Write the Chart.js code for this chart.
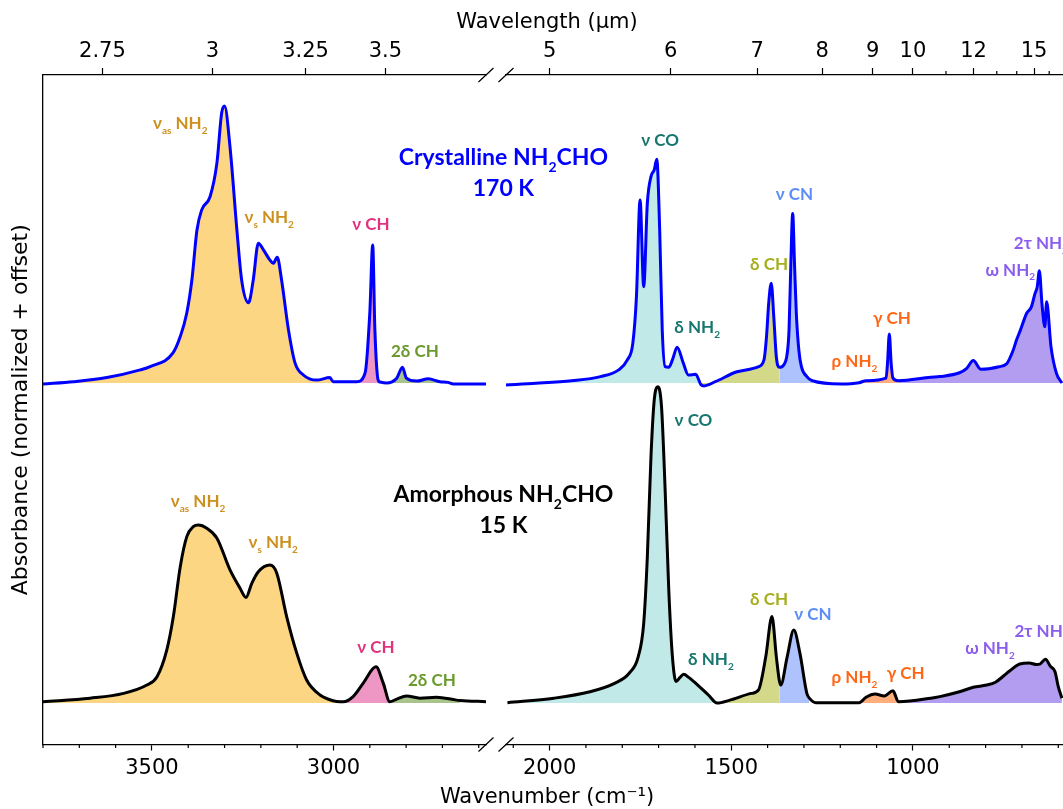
<!DOCTYPE html>
<html>
<head>
<meta charset="utf-8">
<script src="https://cdn.jsdelivr.net/npm/chart.js@4.4.0/dist/chart.umd.min.js"></script>
<style>
  html, body { margin: 0; padding: 0; background: #fff; overflow: hidden; }
  #wrap { position: relative; width: 1063px; height: 809px; }
  #wrap canvas { position: absolute; left: 0; top: 0; }
</style>
</head>
<body>
<div id="wrap">
  <canvas id="leftChart" width="1063" height="809"></canvas>
  <canvas id="rightChart" width="1063" height="809"></canvas>
</div>
<script>
// panel ranges (cm-1) and axis ticks
const leftRange = [3800, 2580];
const rightRange = [2120, 587];
const leftWnTicks = [3500, 3000];
const rightWnTicks = [2000, 1500, 1000];
const leftLambdaTicks = [2.75, 3, 3.25, 3.5];
const rightLambdaTicks = [5, 6, 7, 8, 9, 10, 12, 15];
const rightLambdaMinor = [11, 13, 14, 16];

const crystOffset = 1.0;
const amorphOffset = 0.0;

// crystalline NH2CHO, 170 K
const crystLeftWn = [3800, 3716, 3624, 3532, 3505, 3442, 3422, 3404, 3390, 3376, 3363, 3340, 3321, 3308, 3300, 3285, 3266, 3253, 3234, 3221, 3207, 3193, 3175, 3166, 3155, 3143, 3124, 3106, 3083, 3046, 3010, 3001, 2995, 2936, 2913, 2900, 2892, 2886, 2877, 2872, 2854, 2826, 2810, 2799, 2771, 2739, 2707, 2685, 2670, 2580];
const crystLeftAbs = [-0.003, 0.004, 0.017, 0.041, 0.051, 0.094, 0.145, 0.219, 0.322, 0.478, 0.541, 0.582, 0.688, 0.844, 0.866, 0.738, 0.478, 0.322, 0.251, 0.322, 0.437, 0.416, 0.384, 0.374, 0.393, 0.322, 0.166, 0.063, 0.025, 0.009, 0.017, 0.004, 0.004, 0.004, 0.031, 0.219, 0.431, 0.166, 0.009, 0.003, 0.000, 0.015, 0.049, 0.015, 0.006, 0.013, 0.004, 0.002, -0.003, -0.003];
const crystRightWn = [2121, 2037, 1939, 1860, 1810, 1786, 1771, 1761, 1751, 1741, 1731, 1721, 1712, 1705, 1697, 1690, 1682, 1672, 1662, 1649, 1632, 1618, 1598, 1583, 1575, 1544, 1484, 1425, 1410, 1403, 1397, 1390, 1383, 1376, 1368, 1356, 1346, 1341, 1336, 1331, 1326, 1321, 1314, 1307, 1292, 1277, 1198, 1148, 1129, 1074, 1070, 1065, 1060, 1055, 1040, 951, 926, 872, 852, 834, 813, 763, 742, 724, 715, 704, 687, 674, 664, 658, 652, 645, 637, 632, 620, 605, 590];
const crystRightAbs = [-0.006, -0.001, 0.007, 0.020, 0.041, 0.072, 0.124, 0.270, 0.572, 0.301, 0.562, 0.645, 0.666, 0.699, 0.478, 0.166, 0.051, 0.049, 0.072, 0.112, 0.062, 0.025, 0.027, -0.006, -0.009, 0.004, 0.035, 0.051, 0.072, 0.145, 0.249, 0.312, 0.207, 0.082, 0.049, 0.056, 0.093, 0.166, 0.374, 0.530, 0.374, 0.218, 0.103, 0.051, 0.020, 0.007, -0.003, 0.001, 0.007, 0.015, 0.062, 0.153, 0.062, 0.015, 0.007, 0.018, 0.020, 0.032, 0.046, 0.070, 0.043, 0.051, 0.060, 0.103, 0.134, 0.166, 0.218, 0.238, 0.280, 0.300, 0.351, 0.249, 0.176, 0.254, 0.113, 0.030, 0.000];

// amorphous NH2CHO, 15 K
const amorphLeftWn = [3800, 3670, 3578, 3514, 3486, 3459, 3441, 3422, 3404, 3386, 3372, 3349, 3321, 3285, 3257, 3241, 3225, 3207, 3175, 3156, 3129, 3101, 3074, 3037, 3001, 2982, 2973, 2946, 2918, 2883, 2863, 2845, 2826, 2799, 2762, 2716, 2661, 2652, 2580];
const amorphLeftAbs = [0.004, 0.015, 0.030, 0.056, 0.082, 0.166, 0.270, 0.426, 0.520, 0.551, 0.556, 0.546, 0.515, 0.416, 0.358, 0.330, 0.374, 0.410, 0.431, 0.405, 0.270, 0.155, 0.072, 0.025, 0.007, 0.004, 0.004, 0.020, 0.062, 0.113, 0.062, 0.004, 0.012, 0.022, 0.015, 0.018, 0.009, 0.008, 0.004];
const amorphRightWn = [2116, 1988, 1889, 1820, 1781, 1756, 1741, 1731, 1721, 1712, 1702, 1692, 1682, 1672, 1662, 1652, 1641, 1631, 1617, 1603, 1563, 1539, 1504, 1445, 1425, 1405, 1388, 1376, 1368, 1364, 1346, 1328, 1311, 1292, 1285, 1267, 1148, 1129, 1104, 1079, 1055, 1040, 951, 926, 872, 834, 797, 773, 750, 734, 706, 680, 660, 650, 635, 622, 609, 600, 590];
const amorphRightAbs = [0.001, 0.015, 0.035, 0.062, 0.093, 0.145, 0.249, 0.457, 0.770, 0.947, 0.988, 0.926, 0.666, 0.353, 0.145, 0.067, 0.080, 0.090, 0.080, 0.067, 0.025, 0.000, 0.009, 0.030, 0.041, 0.145, 0.270, 0.145, 0.072, 0.056, 0.145, 0.228, 0.155, 0.030, 0.015, 0.001, 0.001, 0.018, 0.028, 0.022, 0.038, 0.004, 0.015, 0.020, 0.035, 0.049, 0.056, 0.065, 0.085, 0.100, 0.122, 0.125, 0.120, 0.122, 0.137, 0.115, 0.098, 0.051, 0.015];

// band assignments: [key, from cm-1, to cm-1]
const crystBands = [['nh2', 3800, 2995], ['ch', 2995, 2872], ['ch2', 2872, 2685],
  ['co', 2125, 1583], ['dch', 1583, 1368], ['cn', 1368, 1277], ['rho', 1148, 1040], ['omega', 1040, 587]];
const amorphBands = [['nh2', 3800, 2982], ['ch', 2982, 2845], ['ch2', 2845, 2652],
  ['co', 2125, 1539], ['dch', 1539, 1368], ['cn', 1368, 1285], ['rho', 1148, 1040], ['omega', 1040, 587]];

// band labels: [text, cm-1, y]
const crystLabels = [['ν_{as} NH_{2}', 3422, 1.812, 'nh2'], ['ν_{s} NH_{2}', 3177, 1.516, 'nh2'],
  ['ν CH', 2897, 1.494, 'ch'], ['2δ CH', 2776, 1.098, 'ch2'], ['ν CO', 1696, 1.759, 'co'],
  ['δ NH_{2}', 1594, 1.172, 'co'], ['δ CH', 1396, 1.369, 'dch'], ['ν CN', 1326, 1.588, 'cn'],
  ['ρ NH_{2}', 1161, 1.067, 'rho'], ['γ CH', 1058, 1.202, 'rho'], ['ω NH_{2}', 732, 1.353, 'omega'],
  ['2τ NH_{2}', 648, 1.437, 'omega']];
const amorphLabels = [['ν_{as} NH_{2}', 3373, 0.629, 'nh2'], ['ν_{s} NH_{2}', 3166, 0.501, 'nh2'],
  ['ν CH', 2883, 0.173, 'ch'], ['2δ CH', 2729, 0.069, 'ch2'], ['ν CO', 1604, 0.884, 'co'],
  ['δ NH_{2}', 1556, 0.137, 'co'], ['δ CH', 1396, 0.322, 'dch'], ['ν CN', 1275, 0.277, 'cn'],
  ['ρ NH_{2}', 1161, 0.080, 'rho'], ['γ CH', 1020, 0.093, 'rho'], ['ω NH_{2}', 788, 0.171, 'omega'],
  ['2τ NH_{2}', 646, 0.223, 'omega']];
const sampleTitles = [['Crystalline NH_{2}CHO', 2532, 1.703, 'cryst'], ['170 K', 2532, 1.609, 'cryst'],
  ['Amorphous NH_{2}CHO', 2532, 0.650, 'amorph'], ['15 K', 2532, 0.553, 'amorph']];

const fillColors = { nh2: '#fdd683', ch: '#ee97c4', ch2: '#a9c48a', co: '#c0e9e7', dch: '#d4d98a',
  cn: '#aec3fe', rho: '#ffae7b', omega: '#b29df0' };
const textColors = { nh2: '#cc901e', ch: '#e2327d', ch2: '#6a9a2c', co: '#17766f', dch: '#a5ae1d',
  cn: '#5b8df8', rho: '#ff6616', omega: '#8b5cf0', cryst: '#0000ff', amorph: '#000000' };

const AXIS_FONT = "'DejaVu Sans', sans-serif";
const LABEL_FONT = "Lato, 'Open Sans', sans-serif";
const yMin = -0.1297, yMax = 1.9625;

function toPoints(wn, ab, offset) {
  return wn.map((w, i) => ({ x: w, y: ab[i] + offset }));
}

function bandDatasets(wn, ab, offset, bands, range) {
  return bands.filter(b => b[2] < range[0] && b[1] > range[1]).map(b => {
    const pts = [];
    wn.forEach((w, i) => { if (w <= b[1] && w >= b[2]) pts.push({ x: w, y: ab[i] + offset }); });
    return { data: pts, borderWidth: 0, backgroundColor: fillColors[b[0]], fill: { value: offset }, order: 5 };
  });
}

function drawRich(ctx, text, x, y, size, color) {
  const parts = [];
  const re = /_\{([^}]*)\}/g;
  let last = 0, m;
  while ((m = re.exec(text))) {
    if (m.index > last) parts.push({ t: text.slice(last, m.index), sub: false });
    parts.push({ t: m[1], sub: true });
    last = re.lastIndex;
  }
  if (last < text.length) parts.push({ t: text.slice(last), sub: false });
  const mainFont = `bold ${size}px ${LABEL_FONT}`;
  const subFont = `bold ${Math.round(size * 0.6)}px ${LABEL_FONT}`;
  let w = 0;
  parts.forEach(p => { ctx.font = p.sub ? subFont : mainFont; p.w = ctx.measureText(p.t).width; w += p.w; });
  let cx = x - w / 2;
  ctx.fillStyle = color;
  ctx.textAlign = 'left';
  ctx.textBaseline = 'middle';
  parts.forEach(p => {
    ctx.font = p.sub ? subFont : mainFont;
    ctx.fillText(p.t, cx, p.sub ? y + size * 0.42 : y);
    cx += p.w;
  });
}

const panelDecor = {
  id: 'panelDecor',
  afterDraw(chart, args, opts) {
    const { ctx, chartArea: a, scales } = chart;
    const xs = scales.x, ys = scales.y;
    ctx.save();
    ctx.strokeStyle = '#000';
    ctx.lineWidth = 1.2;
    ctx.beginPath();
    // minor ticks every 100 cm-1
    for (let v = Math.ceil(xs.min / 100) * 100; v <= xs.max; v += 100) {
      if (v % 500 === 0) continue;
      const px = xs.getPixelForValue(v);
      ctx.moveTo(px, a.bottom); ctx.lineTo(px, a.bottom + 3.5);
    }
    (opts.lambdaMinor || []).forEach(l => {
      const px = xs.getPixelForValue(1e4 / l);
      ctx.moveTo(px, a.top); ctx.lineTo(px, a.top - 4);
    });
    // broken-axis marks
    const bx = opts.breakSide === 'right' ? a.right : a.left;
    [a.top, a.bottom].forEach(by => { ctx.moveTo(bx - 7.5, by + 7); ctx.lineTo(bx + 7.5, by - 7); });
    ctx.stroke();

    opts.labels.forEach(l => drawRich(ctx, l[0], xs.getPixelForValue(l[1]), ys.getPixelForValue(l[2]), 17, textColors[l[3]]));
    (opts.titles || []).forEach(l => drawRich(ctx, l[0], xs.getPixelForValue(l[1]), ys.getPixelForValue(l[2]), 23, textColors[l[3]]));

    if (opts.axisTitles) {
      ctx.fillStyle = '#000';
      ctx.font = `21px ${AXIS_FONT}`;
      ctx.textAlign = 'center';
      ctx.textBaseline = 'middle';
      ctx.fillText('Wavelength (μm)', 547, 23);
      ctx.fillText('Wavenumber (cm⁻¹)', 547, 798);
    }
    ctx.restore();
  }
};

function panelConfig(p) {
  const datasets = [
    { data: toPoints(p.crystWn, p.crystAbs, crystOffset), borderColor: '#0000ff', borderWidth: 3, fill: false, order: 0 },
    { data: toPoints(p.amorphWn, p.amorphAbs, amorphOffset), borderColor: '#000000', borderWidth: 3, fill: false, order: 0 },
    ...bandDatasets(p.crystWn, p.crystAbs, crystOffset, crystBands, p.range),
    ...bandDatasets(p.amorphWn, p.amorphAbs, amorphOffset, amorphBands, p.range)
  ];
  const tickFont = { family: AXIS_FONT, size: 21 };
  return {
    type: 'line',
    data: { datasets },
    options: {
      responsive: false,
      animation: false,
      events: [],
      layout: { padding: { left: p.padLeft, right: p.padRight, top: 0, bottom: 0 } },
      elements: { point: { radius: 0 }, line: { cubicInterpolationMode: 'monotone' } },
      plugins: { legend: { display: false }, tooltip: { enabled: false }, panelDecor: p.decor },
      scales: {
        x: {
          type: 'linear', position: 'bottom', reverse: true, bounds: 'data',
          min: p.range[1], max: p.range[0],
          afterBuildTicks: s => { s.ticks = p.wnTicks.map(v => ({ value: v })); },
          afterFit: s => { s.height = 64.5; },
          grid: { drawOnChartArea: false, drawTicks: true, tickLength: 6, tickColor: '#000', tickWidth: 1.2 },
          border: { display: true, color: '#000', width: 1.3 },
          ticks: { autoSkip: false, maxRotation: 0, padding: 5, color: '#000', font: tickFont, callback: v => String(v) }
        },
        x2: {
          type: 'linear', position: 'top', reverse: true, bounds: 'data',
          min: p.range[1], max: p.range[0],
          afterBuildTicks: s => { s.ticks = p.lambdaTicks.map(l => ({ value: 1e4 / l })); },
          afterFit: s => { s.height = 75; },
          grid: { drawOnChartArea: false, drawTicks: true, tickLength: 7, tickColor: '#000', tickWidth: 1.2 },
          border: { display: true, color: '#000', width: 1.3 },
          ticks: { autoSkip: false, maxRotation: 0, padding: 4, color: '#000', font: tickFont, callback: (v, i) => String(p.lambdaTicks[i]) }
        },
        y: {
          display: p.showY, min: yMin, max: yMax,
          afterFit: s => { s.width = p.showY ? 43 : 0; },
          grid: { display: false },
          ticks: { display: false },
          border: { display: true, color: '#000', width: 1.3 },
          title: { display: true, text: 'Absorbance (normalized + offset)', color: '#000', font: { family: AXIS_FONT, size: 22 }, padding: { top: 8, bottom: 0 } }
        }
      }
    },
    plugins: [panelDecor]
  };
}

new Chart(document.getElementById('leftChart'), panelConfig({
  range: leftRange, wnTicks: leftWnTicks, lambdaTicks: leftLambdaTicks,
  crystWn: crystLeftWn, crystAbs: crystLeftAbs, amorphWn: amorphLeftWn, amorphAbs: amorphLeftAbs,
  padLeft: 0, padRight: 577, showY: true,
  decor: { breakSide: 'right', labels: crystLabels.concat(amorphLabels).filter(l => l[1] > 2300), titles: sampleTitles, axisTitles: true }
}));

new Chart(document.getElementById('rightChart'), panelConfig({
  range: rightRange, wnTicks: rightWnTicks, lambdaTicks: rightLambdaTicks,
  crystWn: crystRightWn, crystAbs: crystRightAbs, amorphWn: amorphRightWn, amorphAbs: amorphRightAbs,
  padLeft: 506, padRight: 0, showY: false,
  decor: { breakSide: 'left', lambdaMinor: rightLambdaMinor, labels: crystLabels.concat(amorphLabels).filter(l => l[1] < 2300) }
}));
</script>
</body>
</html>
